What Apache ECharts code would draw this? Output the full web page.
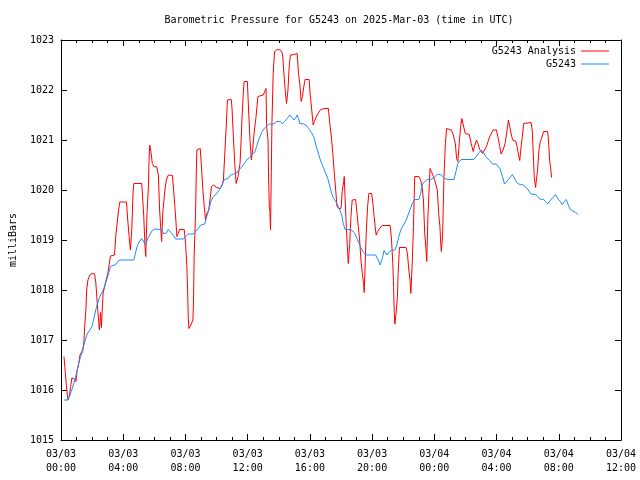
<!DOCTYPE html>
<html>
<head>
<meta charset="utf-8">
<script src="https://cdn.jsdelivr.net/npm/echarts@6/dist/echarts.min.js"></script>
<style>html,body{margin:0;padding:0;background:#fff}#c{width:640px;height:480px}</style>
</head>
<body>
<div id="c"></div>
<script>
var titleText = 'Barometric Pressure for G5243 on 2025-Mar-03 (time in UTC)';
var yAxisName = 'milliBars';
var seriesNames = ['G5243 Analysis', 'G5243'];
// x tick labels every 4 hours from 03/03 00:00
var xTickLabels = ['03/03\n00:00','03/03\n04:00','03/03\n08:00','03/03\n12:00','03/03\n16:00','03/03\n20:00','03/04\n00:00','03/04\n04:00','03/04\n08:00','03/04\n12:00'];
var yTickLabels = ['1015','1016','1017','1018','1019','1020','1021','1022','1023'];

// hours since 03/03 00:00 UTC
var analysisHours = [0.19,0.28,0.37,0.45,0.53,0.62,0.70,0.88,0.96,1.04,1.13,1.22,1.30,1.39,1.47,1.52,1.60,1.65,1.73,1.86,1.99,2.16,2.24,2.33,2.42,2.47,2.54,2.60,2.65,2.71,2.93,3.01,3.09,3.18,3.44,3.52,3.61,3.70,3.78,4.21,4.29,4.38,4.46,4.55,4.63,4.68,5.19,5.23,5.32,5.40,5.45,5.53,5.62,5.66,5.70,5.78,5.87,6.00,6.15,6.26,6.34,6.42,6.47,6.55,6.68,6.77,6.90,7.16,7.24,7.32,7.41,7.45,7.54,7.62,7.92,8.01,8.09,8.14,8.18,8.22,8.35,8.48,8.52,8.56,8.65,8.69,8.73,8.95,9.03,9.12,9.21,9.29,9.37,9.50,9.59,9.67,9.80,10.01,10.23,10.36,10.44,10.52,10.61,10.70,10.95,11.00,11.08,11.17,11.26,11.38,11.51,11.59,11.64,11.72,11.77,11.98,12.06,12.15,12.24,12.32,12.41,12.54,12.66,12.75,13.00,13.18,13.22,13.31,13.34,13.39,13.43,13.47,13.52,13.56,13.64,13.73,13.90,14.11,14.24,14.33,14.41,14.50,14.59,14.67,14.75,14.97,15.18,15.27,15.35,15.44,15.52,15.61,15.69,15.95,16.03,16.12,16.21,16.29,16.46,16.67,16.89,17.19,17.28,17.40,17.49,17.57,17.66,17.74,17.87,18.00,18.08,18.17,18.21,18.26,18.34,18.43,18.47,18.56,18.64,18.72,18.94,19.03,19.11,19.20,19.28,19.37,19.45,19.49,19.54,19.62,19.71,19.79,19.97,20.05,20.13,20.22,20.26,20.35,20.48,20.65,21.16,21.25,21.33,21.38,21.42,21.46,21.54,21.63,21.67,21.76,22.18,22.27,22.36,22.44,22.49,22.57,22.66,22.70,22.74,23.00,23.12,23.21,23.30,23.38,23.47,23.51,23.59,23.68,23.72,23.81,23.94,24.02,24.11,24.19,24.28,24.36,24.41,24.45,24.53,24.58,24.62,24.71,24.79,25.09,25.22,25.35,25.43,25.51,25.60,25.69,25.77,25.86,25.99,26.25,26.37,26.50,26.58,26.71,26.80,26.92,27.10,27.22,27.35,27.56,27.78,27.99,28.08,28.21,28.29,28.42,28.55,28.68,28.76,28.85,28.97,29.06,29.23,29.32,29.40,29.49,29.58,29.66,29.74,30.22,30.30,30.34,30.38,30.43,30.51,30.56,30.64,30.68,30.73,30.81,30.89,31.02,31.28,31.32,31.37,31.41,31.50,31.54];
var analysisValues = [1016.67,1016.34,1016.0,1015.8,1015.87,1016.07,1016.24,1016.22,1016.17,1016.4,1016.5,1016.7,1016.72,1016.8,1016.94,1017.27,1017.6,1018.0,1018.2,1018.3,1018.33,1018.32,1018.14,1017.74,1017.37,1017.2,1017.55,1017.25,1017.6,1017.94,1018.24,1018.33,1018.5,1018.68,1018.7,1019.07,1019.34,1019.6,1019.76,1019.76,1019.4,1019.07,1018.8,1019.2,1019.94,1020.13,1020.13,1019.94,1019.47,1018.87,1018.67,1019.53,1020.07,1020.6,1020.9,1020.77,1020.53,1020.46,1020.47,1020.3,1019.6,1019.2,1018.97,1019.57,1020.0,1020.2,1020.3,1020.29,1020.0,1019.67,1019.27,1019.07,1019.13,1019.21,1019.21,1018.93,1018.47,1018.0,1017.47,1017.23,1017.3,1017.4,1017.8,1018.67,1019.53,1020.2,1020.8,1020.83,1020.47,1020.0,1019.67,1019.4,1019.53,1019.6,1019.83,1020.07,1020.1,1020.05,1020.03,1020.1,1020.2,1020.67,1021.2,1021.8,1021.81,1021.6,1021.07,1020.53,1020.13,1020.27,1020.53,1021.07,1021.47,1021.93,1022.17,1022.17,1021.6,1021.0,1020.6,1020.8,1021.13,1021.47,1021.87,1021.9,1021.9,1022.03,1021.27,1021.0,1020.33,1019.67,1019.57,1019.2,1020.35,1021.33,1022.33,1022.77,1022.81,1022.8,1022.73,1022.33,1022.0,1021.73,1022.0,1022.47,1022.7,1022.71,1022.73,1022.33,1022.13,1021.77,1021.87,1022.07,1022.21,1022.21,1021.87,1021.6,1021.3,1021.37,1021.5,1021.6,1021.63,1021.63,1021.33,1021.0,1020.67,1020.33,1020.0,1019.67,1019.63,1019.63,1019.97,1020.17,1020.27,1019.87,1019.27,1018.73,1018.53,1018.93,1019.47,1019.8,1019.81,1019.53,1019.27,1019.0,1018.6,1018.33,1018.13,1017.95,1018.4,1019.13,1019.67,1019.93,1019.93,1019.73,1019.47,1019.2,1019.1,1019.17,1019.23,1019.29,1019.29,1019.0,1018.53,1018.07,1017.6,1017.32,1017.53,1017.87,1018.33,1018.85,1018.85,1018.73,1018.4,1018.2,1017.93,1018.47,1019.27,1019.8,1020.27,1020.27,1020.2,1020.07,1019.8,1019.13,1018.8,1018.57,1019.47,1020.13,1020.43,1020.37,1020.27,1020.2,1020.1,1020.0,1019.53,1019.27,1018.93,1018.77,1019.07,1019.73,1020.27,1020.93,1021.23,1021.2,1021.1,1020.93,1020.63,1020.57,1020.93,1021.27,1021.43,1021.3,1021.13,1021.11,1020.93,1020.77,1020.87,1021.0,1020.93,1020.81,1020.73,1020.7,1020.87,1021.07,1021.2,1021.2,1021.07,1020.87,1020.72,1020.8,1020.93,1021.2,1021.4,1021.27,1021.07,1020.99,1020.98,1020.87,1020.73,1020.59,1020.87,1021.07,1021.33,1021.35,1021.17,1020.87,1020.57,1020.23,1020.05,1020.2,1020.4,1020.6,1020.81,1020.97,1021.03,1021.17,1021.17,1021.07,1020.83,1020.6,1020.37,1020.25];

var stationHours = [0.19,0.45,0.49,0.58,0.66,0.79,0.92,1.04,1.13,1.26,1.39,1.47,1.56,1.68,1.86,1.99,2.07,2.16,2.29,2.42,2.54,2.67,2.80,2.93,3.06,3.18,3.27,3.52,3.70,3.91,4.68,4.76,4.89,5.02,5.19,5.32,5.45,5.57,5.70,5.87,6.04,6.47,6.60,6.73,6.90,7.07,7.24,7.37,7.88,8.01,8.18,8.48,8.65,8.82,8.99,9.24,9.37,9.50,9.63,9.80,10.01,10.19,10.36,10.49,10.74,10.91,11.08,11.26,11.42,11.59,11.77,11.93,12.11,12.32,12.45,12.58,12.70,12.83,12.96,13.13,13.26,13.43,13.69,13.86,13.98,14.11,14.24,14.37,14.54,14.71,14.84,14.97,15.10,15.18,15.27,15.35,15.61,15.78,15.91,16.03,16.16,16.29,16.38,16.51,16.64,16.76,16.89,17.02,17.15,17.28,17.40,17.53,17.66,17.79,17.92,18.05,18.13,18.26,18.64,18.85,19.03,19.16,19.28,19.41,19.62,20.22,20.39,20.52,20.65,20.77,20.95,21.12,21.25,21.46,21.59,21.72,21.84,22.02,22.18,22.31,22.44,22.57,22.74,23.00,23.12,23.21,23.38,23.55,23.77,23.98,24.23,24.45,24.66,24.87,25.26,25.39,25.51,25.73,26.54,26.71,26.88,27.01,27.18,27.35,27.56,27.74,27.99,28.21,28.38,28.51,28.76,29.02,29.19,29.36,29.53,29.74,29.96,30.22,30.51,30.64,30.77,31.02,31.15,31.28,31.45,31.62,31.79,31.96,32.09,32.22,32.35,32.48,32.61,32.73,32.91,33.07,33.25];
var stationValues = [1015.8,1015.8,1015.79,1015.9,1015.97,1016.1,1016.23,1016.4,1016.53,1016.67,1016.77,1016.9,1017.0,1017.12,1017.2,1017.27,1017.37,1017.5,1017.67,1017.8,1017.9,1017.97,1018.07,1018.2,1018.33,1018.47,1018.5,1018.51,1018.59,1018.6,1018.6,1018.7,1018.87,1018.96,1019.03,1018.96,1018.9,1019.03,1019.1,1019.19,1019.22,1019.21,1019.13,1019.13,1019.21,1019.15,1019.09,1019.02,1019.02,1019.07,1019.12,1019.12,1019.17,1019.23,1019.3,1019.32,1019.47,1019.6,1019.77,1019.87,1019.93,1020.01,1020.1,1020.21,1020.23,1020.3,1020.32,1020.33,1020.4,1020.45,1020.53,1020.59,1020.65,1020.73,1020.75,1020.87,1021.0,1021.1,1021.19,1021.25,1021.29,1021.32,1021.32,1021.37,1021.41,1021.37,1021.32,1021.37,1021.43,1021.5,1021.45,1021.4,1021.45,1021.5,1021.43,1021.33,1021.32,1021.29,1021.23,1021.19,1021.12,1021.03,1020.9,1020.77,1020.63,1020.53,1020.43,1020.33,1020.23,1020.07,1019.93,1019.83,1019.77,1019.7,1019.6,1019.5,1019.35,1019.21,1019.21,1019.15,1019.03,1018.93,1018.85,1018.77,1018.7,1018.7,1018.6,1018.5,1018.63,1018.79,1018.7,1018.77,1018.79,1018.8,1018.9,1019.07,1019.2,1019.3,1019.39,1019.5,1019.61,1019.72,1019.81,1019.81,1019.93,1020.1,1020.17,1020.21,1020.21,1020.25,1020.32,1020.3,1020.23,1020.21,1020.21,1020.37,1020.53,1020.61,1020.61,1020.68,1020.75,1020.8,1020.73,1020.65,1020.59,1020.52,1020.52,1020.43,1020.27,1020.12,1020.21,1020.31,1020.21,1020.13,1020.11,1020.1,1020.03,1019.92,1019.91,1019.87,1019.82,1019.81,1019.77,1019.72,1019.79,1019.85,1019.91,1019.82,1019.77,1019.71,1019.77,1019.81,1019.7,1019.61,1019.58,1019.55,1019.51];

function pairs(xs, ys) { return xs.map(function (x, i) { return [x, ys[i]]; }); }

var FONT = 'DejaVu Sans Mono';
var chart = echarts.init(document.getElementById('c'), null, { renderer: 'canvas' });

var xBase = {
  type: 'value', min: 0, max: 36, interval: 4,
  axisLine: { show: true, onZero: false, lineStyle: { color: '#000', width: 1 } },
  axisTick: { show: true, inside: true, length: 6, lineStyle: { color: '#000' } },
  minorTick: { show: true, splitNumber: 4, length: 3, lineStyle: { color: '#000' } },
  splitLine: { show: false }
};
var yBase = {
  type: 'value', min: 1015, max: 1023, interval: 1,
  axisLine: { show: true, onZero: false, lineStyle: { color: '#000', width: 1 } },
  axisTick: { show: true, inside: true, length: 6, lineStyle: { color: '#000' } },
  splitLine: { show: false }
};

chart.setOption({
  animation: false,
  backgroundColor: '#fff',
  title: {
    text: titleText, left: 334, top: 10, textAlign: 'center',
    textStyle: { fontFamily: FONT, fontSize: 10, fontWeight: 'normal', color: '#000' }
  },
  legend: [
    { data: [seriesNames[0]], right: 26, top: 41, align: 'right', icon: 'rect', itemWidth: 28, itemHeight: 1, itemGap: 0,
      textStyle: { fontFamily: FONT, fontSize: 10, color: '#000' } },
    { data: [seriesNames[1]], right: 26, top: 54, align: 'right', icon: 'rect', itemWidth: 28, itemHeight: 1, itemGap: 0,
      textStyle: { fontFamily: FONT, fontSize: 10, color: '#000' } }
  ],
  grid: { left: 59, right: 19, top: 40, bottom: 40, containLabel: false },
  xAxis: [
    Object.assign({}, xBase, {
      position: 'bottom',
      axisLabel: {
        show: true, margin: 7, fontFamily: FONT, fontSize: 10, color: '#000', lineHeight: 14,
        formatter: function (v) { return xTickLabels[Math.round(v / 4)]; }
      }
    }),
    Object.assign({}, xBase, { position: 'top', axisLabel: { show: false } })
  ],
  yAxis: [
    Object.assign({}, yBase, {
      position: 'left',
      name: yAxisName, nameLocation: 'middle', nameGap: 43, nameRotate: 90,
      nameTextStyle: { fontFamily: FONT, fontSize: 10, color: '#000' },
      axisLabel: {
        show: true, margin: 7, fontFamily: FONT, fontSize: 10, color: '#000',
        formatter: function (v) { return yTickLabels[Math.round(v - 1015)]; }
      }
    }),
    Object.assign({}, yBase, { position: 'right', axisLabel: { show: false } })
  ],
  series: [
    { name: seriesNames[0], type: 'line', data: pairs(analysisHours, analysisValues),
      showSymbol: false, symbol: 'none', lineStyle: { color: '#ff0000', width: 1 }, itemStyle: { color: '#ff0000' } },
    { name: seriesNames[1], type: 'line', data: pairs(stationHours, stationValues),
      showSymbol: false, symbol: 'none', lineStyle: { color: '#1a8cff', width: 1 }, itemStyle: { color: '#1a8cff' } }
  ]
});
</script>
</body>
</html>
